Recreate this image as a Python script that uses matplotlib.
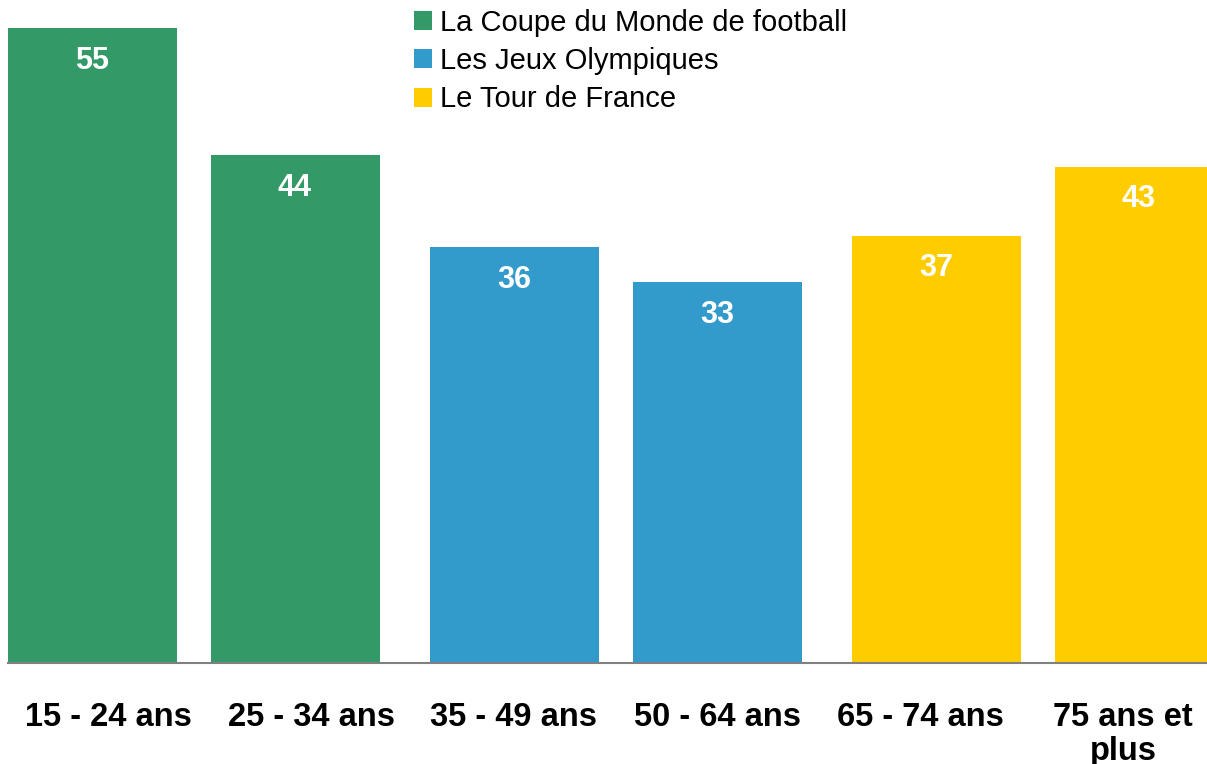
import matplotlib
matplotlib.use("Agg")
import matplotlib.pyplot as plt
from matplotlib.patches import Patch

plt.rcParams['font.family'] = ['Liberation Sans', 'DejaVu Sans']

categories = ["15 - 24 ans", "25 - 34 ans", "35 - 49 ans", "50 - 64 ans", "65 - 74 ans", "75 ans et\nplus"]
values = [55, 44, 36, 33, 37, 43]
groups = [0, 0, 1, 1, 2, 2]
series = ["La Coupe du Monde de football", "Les Jeux Olympiques", "Le Tour de France"]
colors = ["#339966", "#339ACC", "#FFCC00"]

fig = plt.figure(figsize=(12.07, 7.64), dpi=100)
ax = fig.add_axes([0, 1 - 663 / 764, 1, 663 / 764])

unit = 203.0
group_shift = [-16 / unit, 0.0, 16 / unit]
width = 169 / unit
xs = [i + group_shift[g] for i, g in enumerate(groups)]

bars = ax.bar(xs, values, width=width, color=[colors[g] for g in groups], zorder=2)
for x, v in zip(xs, values):
    ax.annotate(str(v), (x, v), xytext=(0, -23.5), textcoords='offset points',
                ha='center', va='center', color='white', fontsize=22, fontweight='bold')

ax.set_xlim(-108 / unit, (1207 - 108) / unit)
ax.set_ylim(0, 663 / 11.545)

for s in ['top', 'right', 'left']:
    ax.spines[s].set_visible(False)
ax.spines['bottom'].set_color('#808080')
ax.spines['bottom'].set_linewidth(1.5)
ax.spines['bottom'].set_bounds(xs[0] - width / 2, ax.get_xlim()[1])
ax.set_yticks([])
ax.set_xticks(range(len(categories)))
ax.set_xticklabels(categories, fontsize=23.5, fontweight='bold', linespacing=1.15)
ax.tick_params(axis='x', length=0, pad=28)

handles = [Patch(facecolor=c, edgecolor='none') for c in colors]
fig.legend(handles, series, loc='upper left', bbox_to_anchor=(414 / 1207, 1 - 9 / 764),
           frameon=False, fontsize=21, handlelength=0.62, handleheight=0.62,
           handletextpad=0.28, labelspacing=0.35, borderpad=0, borderaxespad=0)

fig.savefig("out.png", dpi=100)
